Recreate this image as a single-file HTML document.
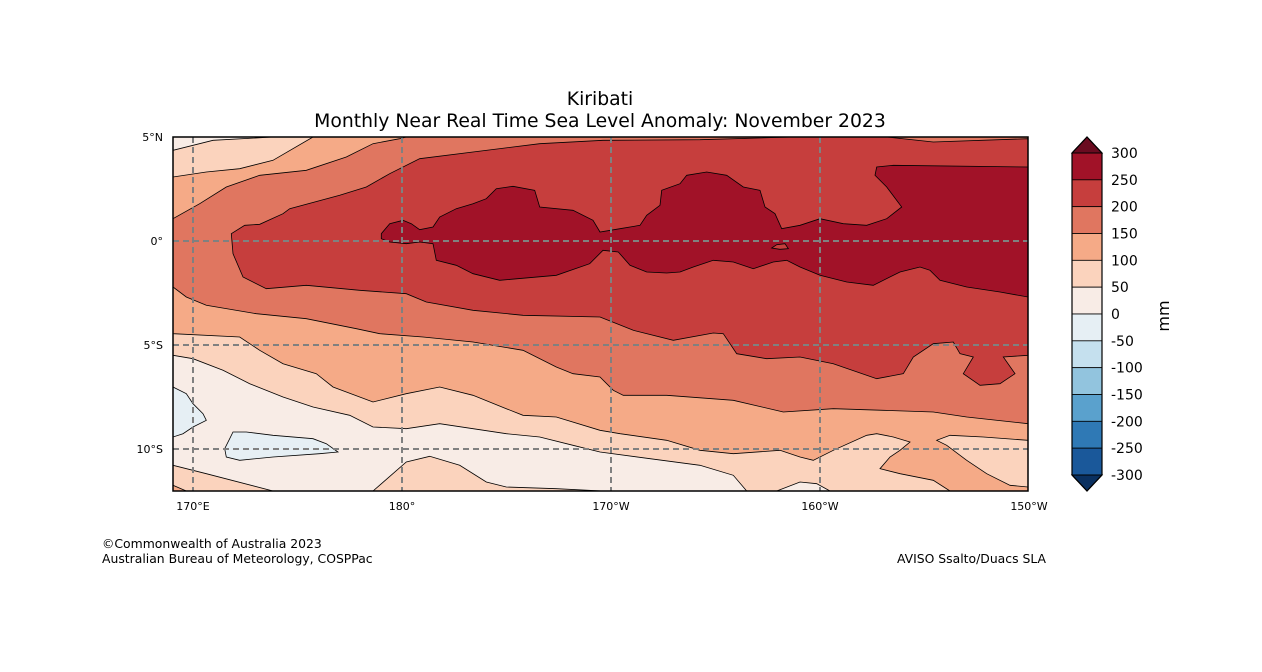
<!DOCTYPE html>
<html><head><meta charset="utf-8"><style>
body{margin:0;background:#fff;width:1262px;height:667px;overflow:hidden}
text{font-family:"DejaVu Sans","Liberation Sans",sans-serif}
</style></head><body>
<svg id="fig" width="1262" height="667" viewBox="0 0 1262 667" xmlns="http://www.w3.org/2000/svg">
<rect width="1262" height="667" fill="#fff"/>
<text x="600" y="105" font-size="18.8" text-anchor="middle">Kiribati</text>
<text x="600" y="127" font-size="18.8" text-anchor="middle">Monthly Near Real Time Sea Level Anomaly: November 2023</text>
<defs><clipPath id="mapclip"><rect x="173" y="137" width="855" height="354"/></clipPath></defs>
<g id="map" clip-path="url(#mapclip)"></g>
<g id="grid"></g>
<rect x="173" y="137" width="855" height="354" fill="none" stroke="#000" stroke-width="1.5"/>
<g id="axes"></g>
<g id="cbar"></g>
<text transform="translate(1169,316) rotate(-90)" font-size="16" text-anchor="middle">mm</text>
<text x="102" y="548" font-size="12.4">©Commonwealth of Australia 2023</text>
<text x="102" y="563" font-size="12.4">Australian Bureau of Meteorology, COSPPac</text>
<text x="1046" y="563" font-size="12.4" text-anchor="end">AVISO Ssalto/Duacs SLA</text>
</svg>
<script>
const levels=[300,250,200,150,100,50,0,-50,-100,-150,-200,-250,-300];
const bandColors=["#a11228","#c63e3d","#e07660","#f5aa87","#fbd3bd","#f8ece6","#e6eff4","#c5e0ee","#92c4de","#5aa1cd","#2f79b5","#1a589a"];
const extendColors=["#6a0b20","#0a3060"];
const lonTicks=[170,180,190,200,210];
const lonLabels=["170°E","180°","170°W","160°W","150°W"];
const latTicks=[5,0,-5,-10];
const latLabels=["5°N","0°","5°S","10°S"];
// contour regions in 1/3-pixel map units (u,v), value >= level
const region50=[[0,40],[120,10],[300,0],[2565,0],[2565,1062],[1971,1062],[1931,1040],[1881,1035],[1811,1062],[1721,1062],[1681,1015],[1581,985],[1431,965],[1281,945],[1200,925],[1100,900],[1000,890],[900,875],[800,860],[700,875],[600,870],[530,835],[420,810],[330,780],[230,740],[150,700],[60,665],[0,655]];
const region50b=[[600,1062],[700,975],[770,958],[860,985],[940,1035],[1000,1050],[1150,1055],[1290,1062]];
const region50c=[[0,985],[100,1010],[300,1062],[0,1062]];
const region100=[[0,120],[100,105],[200,95],[300,70],[420,0],[2565,0],[2565,910],[2431,900],[2331,895],[2291,910],[2321,925],[2381,970],[2441,1010],[2511,1045],[2565,1050],[2565,1062],[2331,1062],[2281,1030],[2181,1010],[2121,995],[2151,960],[2181,940],[2211,915],[2161,900],[2111,890],[2081,895],[1981,940],[1921,970],[1881,960],[1821,940],[1681,950],[1581,940],[1481,910],[1341,890],[1281,880],[1150,840],[1050,835],[1000,815],[900,775],[800,750],[700,770],[600,795],[480,750],[430,710],[330,680],[260,640],[200,600],[0,590]];
const region100b=[[0,1045],[40,1062],[0,1062]];
const region150=[[0,245],[80,200],[160,150],[260,115],[400,100],[520,60],[600,20],[680,5],[700,0],[2565,0],[2565,860],[2381,840],[2281,825],[2131,820],[1981,815],[1831,825],[1681,790],[1481,775],[1351,775],[1321,760],[1281,720],[1200,710],[1150,690],[1050,640],[900,615],[750,600],[620,590],[550,575],[400,545],[250,530],[100,505],[40,480],[0,450]];
const region200=[[175,290],[215,265],[260,262],[330,230],[350,215],[500,175],[580,150],[650,110],[740,65],[900,45],[1100,20],[1290,10],[1581,8],[1861,0],[2141,0],[2281,15],[2565,5],[2565,655],[2491,660],[2526,710],[2481,740],[2421,745],[2371,710],[2401,660],[2361,650],[2341,615],[2281,620],[2221,660],[2191,710],[2111,725],[1981,680],[1881,660],[1781,665],[1691,650],[1651,590],[1621,588],[1501,610],[1381,580],[1281,540],[1050,535],[900,520],[760,495],[700,470],[560,460],[400,445],[280,455],[210,420],[180,350]];
const region250=[[625,290],[650,260],[690,250],[715,260],[740,278],[780,270],[800,240],[850,215],[900,200],[940,185],[970,155],[1020,148],[1085,160],[1100,210],[1200,220],[1260,250],[1281,285],[1341,275],[1401,265],[1421,235],[1461,205],[1466,160],[1521,140],[1541,115],[1601,105],[1661,115],[1711,150],[1761,160],[1776,210],[1806,230],[1826,275],[1881,265],[1941,245],[2011,260],[2081,265],[2141,245],[2186,210],[2141,150],[2106,115],[2111,90],[2161,85],[2565,90],[2565,480],[2481,465],[2381,450],[2301,430],[2271,400],[2241,390],[2181,405],[2101,445],[2021,435],[1941,415],[1881,390],[1841,370],[1801,375],[1741,395],[1681,375],[1621,370],[1561,390],[1521,405],[1481,408],[1421,405],[1371,385],[1336,345],[1290,340],[1250,380],[1150,415],[980,430],[900,410],[850,385],[790,370],[780,320],[740,315],[700,320],[650,315],[625,305]];
const neg1=[[0,750],[40,770],[60,800],[90,830],[100,850],[60,870],[30,890],[0,900]];
const neg2=[[180,885],[220,885],[300,895],[420,905],[460,920],[495,945],[440,950],[300,960],[200,970],[160,960],[155,935],[170,905]];
const lens=[[1796,333],[1811,323],[1836,320],[1846,335],[1821,337]];
const svgNS="http://www.w3.org/2000/svg";
const mapX0=173,mapY0=137;
function lonToX(l){return 193+(l-170)*20.9;}
function latToY(l){return 241-l*20.8;}
function U(p){return [mapX0+p[0]/3,mapY0+p[1]/3];}
const map=document.getElementById('map');
function poly(pts,fill,name){
  const p=document.createElementNS(svgNS,'path');
  p.setAttribute('d','M'+pts.map(q=>U(q).map(v=>v.toFixed(1)).join(',')).join('L')+'Z');
  p.setAttribute('fill',fill);p.setAttribute('stroke','#000');p.setAttribute('stroke-width','0.8');
  
  
  map.appendChild(p);
}
const bg=document.createElementNS(svgNS,'rect');
bg.setAttribute('x',173);bg.setAttribute('y',137);bg.setAttribute('width',855);bg.setAttribute('height',354);bg.setAttribute('fill',bandColors[5]);


map.appendChild(bg);
poly(region50,bandColors[4],'band-50-100');
poly(region50b,bandColors[4],'band-50-100-south');
poly(region50c,bandColors[4],'band-50-100-southwest');
poly(region100,bandColors[3],'band-100-150');
poly(region100b,bandColors[3],'band-100-150-corner');
poly(region150,bandColors[2],'band-150-200');
poly(region200,bandColors[1],'band-200-250');
poly(region250,bandColors[0],'band-250-300');
poly(lens,bandColors[1],'band-200-250-lens');
poly(neg1,bandColors[6],'band-neg-west');
poly(neg2,bandColors[6],'band-neg-south');
const grid=document.getElementById('grid'),axes=document.getElementById('axes');
lonTicks.forEach((l,i)=>{
  const x=lonToX(l);
  if(i<lonTicks.length-1){
    const ln=document.createElementNS(svgNS,'line');
    ln.setAttribute('x1',x);ln.setAttribute('x2',x);ln.setAttribute('y1',137);ln.setAttribute('y2',491);
    ln.setAttribute('stroke','#808080');ln.setAttribute('stroke-width','2');ln.setAttribute('stroke-dasharray','6,4');
    
    
    grid.appendChild(ln);
  }
  const t=document.createElementNS(svgNS,'text');
  t.setAttribute('x',x);t.setAttribute('y',510);t.setAttribute('font-size','11');t.setAttribute('text-anchor','middle');
  t.textContent=lonLabels[i];
  
  
  axes.appendChild(t);
});
latTicks.forEach((l,i)=>{
  const y=latToY(l);
  if(l<5){
    const ln=document.createElementNS(svgNS,'line');
    ln.setAttribute('x1',173);ln.setAttribute('x2',1028);ln.setAttribute('y1',y);ln.setAttribute('y2',y);
    ln.setAttribute('stroke','#808080');ln.setAttribute('stroke-width','2');ln.setAttribute('stroke-dasharray','6,4');
    
    
    grid.appendChild(ln);
  }
  const t=document.createElementNS(svgNS,'text');
  t.setAttribute('x',163);t.setAttribute('y',y+4);t.setAttribute('font-size','11');t.setAttribute('text-anchor','end');
  t.textContent=latLabels[i];
  
  
  axes.appendChild(t);
});
const cb=document.getElementById('cbar');
const cbTop=153,cbBot=475,cbX=1072,cbW=30;
function lvY(v){return cbTop+(levels[0]-v)/(levels[0]-levels[levels.length-1])*(cbBot-cbTop);}
for(let i=0;i<bandColors.length;i++){
  const r=document.createElementNS(svgNS,'rect');
  const y1=lvY(levels[i]),y2=lvY(levels[i+1]);
  r.setAttribute('x',cbX);r.setAttribute('y',y1);r.setAttribute('width',cbW);r.setAttribute('height',y2-y1);
  r.setAttribute('fill',bandColors[i]);r.setAttribute('stroke','#000');r.setAttribute('stroke-width','0.8');
  
  
  cb.appendChild(r);
}
[[`${cbX},${cbTop} ${cbX+cbW/2},137 ${cbX+cbW},${cbTop}`,extendColors[0]],[`${cbX},${cbBot} ${cbX+cbW/2},491 ${cbX+cbW},${cbBot}`,extendColors[1]]].forEach(a=>{
  const p=document.createElementNS(svgNS,'polygon');
  p.setAttribute('points',a[0]);p.setAttribute('fill',a[1]);p.setAttribute('stroke','#000');p.setAttribute('stroke-width','1');
  
  
  cb.appendChild(p);
});
const fr=document.createElementNS(svgNS,'polygon');
fr.setAttribute('points',`${cbX},${cbTop} ${cbX+cbW/2},137 ${cbX+cbW},${cbTop} ${cbX+cbW},${cbBot} ${cbX+cbW/2},491 ${cbX},${cbBot}`);
fr.setAttribute('fill','none');fr.setAttribute('stroke','#000');fr.setAttribute('stroke-width','1.2');


cb.appendChild(fr);
levels.forEach(v=>{
  const t=document.createElementNS(svgNS,'text');
  t.setAttribute('x',1111);t.setAttribute('y',lvY(v)+5);t.setAttribute('font-size','14');
  t.textContent=String(v);
  
  
  cb.appendChild(t);
});
</script>
</body></html>
